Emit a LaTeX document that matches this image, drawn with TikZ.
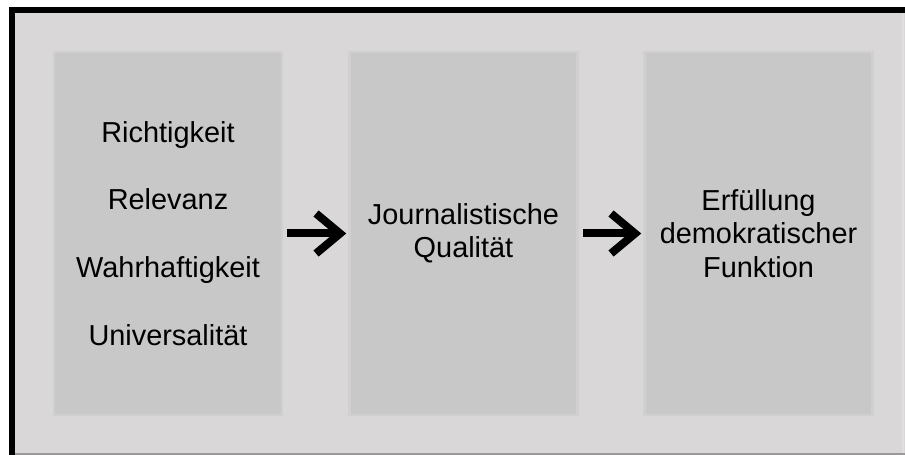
\documentclass[tikz,border=0pt]{standalone}
\usepackage{fontspec}
\setmainfont{Liberation Sans}
\usetikzlibrary{arrows.meta}
\definecolor{bgc}{HTML}{D9D7D8}
\definecolor{boxc}{HTML}{C8C8C8}
\definecolor{haloc}{HTML}{D0D0D0}
\tikzset{
  stagebox/.style={fill=boxc, draw=haloc, line width=2.5bp, minimum width=228bp, minimum height=363bp, inner sep=0pt, align=center, text=black},
  flowarrow/.style={line width=8bp, shorten <=4bp, shorten >=2bp, -{Straight Barb[length=24bp, width=40bp, line join=miter, line cap=butt]}}
}
\begin{document}
\begin{tikzpicture}[x=1bp, y=-1bp]
\useasboundingbox (0,0) rectangle (905,455);
\fill[white] (0,0) rectangle (905,455);
\fill[black] (9,7) rectangle (905,13);
\fill[black] (9,7) rectangle (15,455);
\fill[bgc] (15,13) rectangle (905,453);
\fill[gray!80] (15,453) rectangle (905,455);
\fill[gray!25] (902,13) rectangle (904,453);
\node[stagebox, font=\fontsize{29}{68}\selectfont] (b1) at (168,233.5) {Richtigkeit\\Relevanz\\Wahrhaftigkeit\\Universalität};
\node[stagebox, font=\fontsize{29}{33}\selectfont] (b2) at (463.5,233.5) {Journalistische\\Qualität};
\node[stagebox, font=\fontsize{29}{33.5}\selectfont] (b3) at (758.5,233.5) {\rule{0pt}{8bp}Erfüllung\\demokratischer\\Funktion};
\draw[flowarrow] (b1.east) -- (b2.west);
\draw[flowarrow] (b2.east) -- (b3.west);
\end{tikzpicture}
\end{document}
